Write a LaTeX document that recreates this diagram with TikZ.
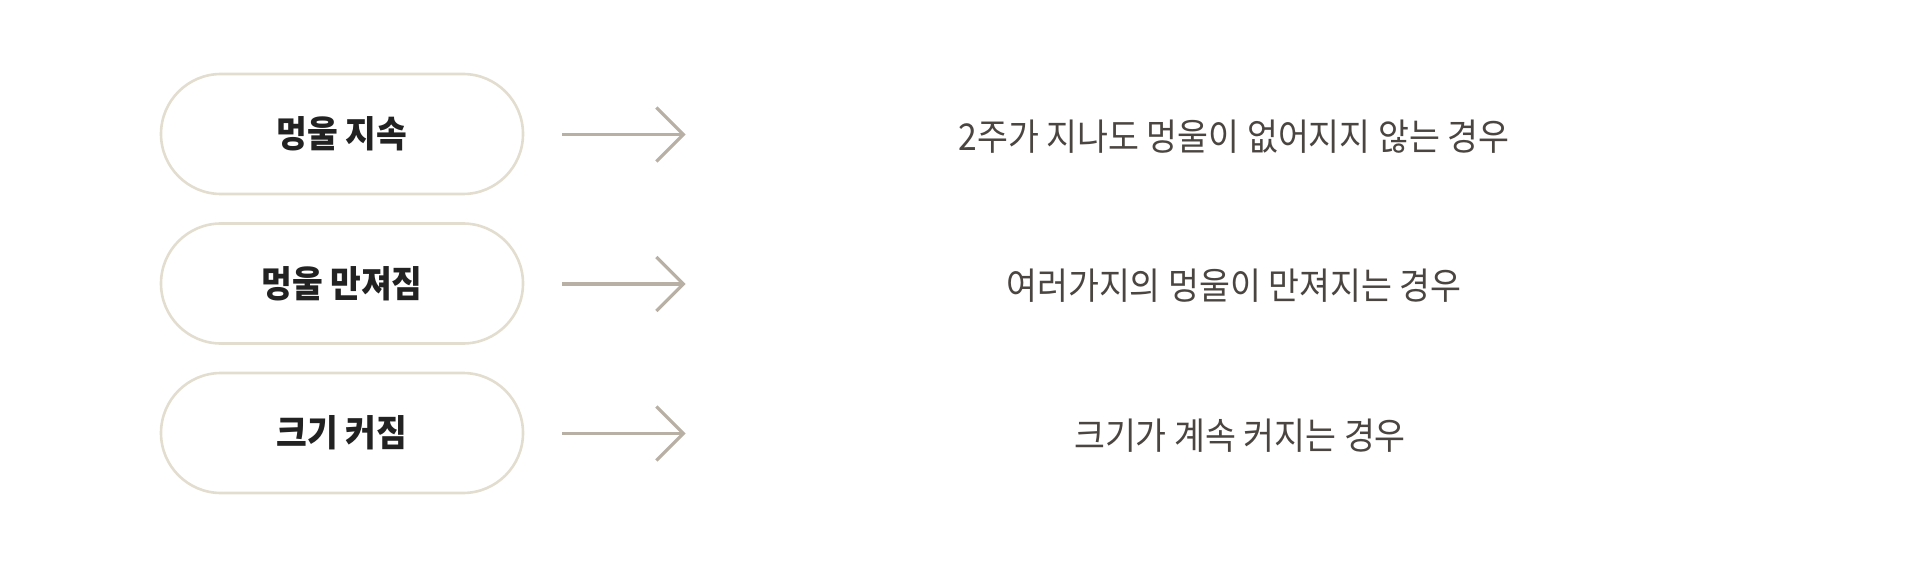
\documentclass[tikz,border=0pt]{standalone}
\usepackage{fontspec}
\setmainfont{Noto Sans CJK KR}
\usetikzlibrary{calc}
\definecolor{pillborder}{HTML}{E3DDD0}
\definecolor{arrowcol}{HTML}{B8B0A4}
\definecolor{labelcol}{HTML}{222222}
\definecolor{desccol}{HTML}{4A4540}
\tikzset{
  pill/.style={draw=pillborder, line width=1.3pt, rounded corners=30pt,
    minimum width=181pt, minimum height=60pt, inner sep=0pt,
    font=\fontsize{16.7pt}{20pt}\selectfont\bfseries, text=labelcol},
  desc/.style={font=\fontsize{16.8pt}{20pt}\selectfont, text=desccol, inner sep=0pt},
  arr/.style={draw=arrowcol, line width=1.6pt},
}
\begin{document}
\begin{tikzpicture}[x=0.5pt,y=-0.5pt]
\useasboundingbox (0,0) rectangle (1920,572);
\node[pill] (p1) at (342,134) {\raisebox{-1.2pt}{\scalebox{1}[1.1]{멍울 지속}}};
\node[pill] (p2) at (342,283.5) {\raisebox{-1.2pt}{\scalebox{1}[1.1]{멍울 만져짐}}};
\node[pill] (p3) at (342,433) {\raisebox{-1.2pt}{\scalebox{1}[1.1]{크기 커짐}}};
\node[desc] (d1) at (1234,136.5) {\scalebox{1}[1.1]{2주가 지나도 멍울이 없어지지 않는 경우}};
\node[desc] (d2) at (1234,286) {\scalebox{1}[1.1]{여러가지의 멍울이 만져지는 경우}};
\node[desc] (d3) at (1240,435.5) {\scalebox{1}[1.1]{크기가 계속 커지는 경우}};
\foreach \i in {1,2,3}{
  \coordinate (s\i) at ($(p\i.east)+(38,0.5)$);
  \coordinate (t\i) at ($(p\i.east)+(159,0.5)$);
  \draw[arr] (s\i) -- (t\i);
  \draw[arr] ($(t\i)+(-27,-27)$) -- (t\i) -- ($(t\i)+(-27,27)$);
}
\end{tikzpicture}
\end{document}
